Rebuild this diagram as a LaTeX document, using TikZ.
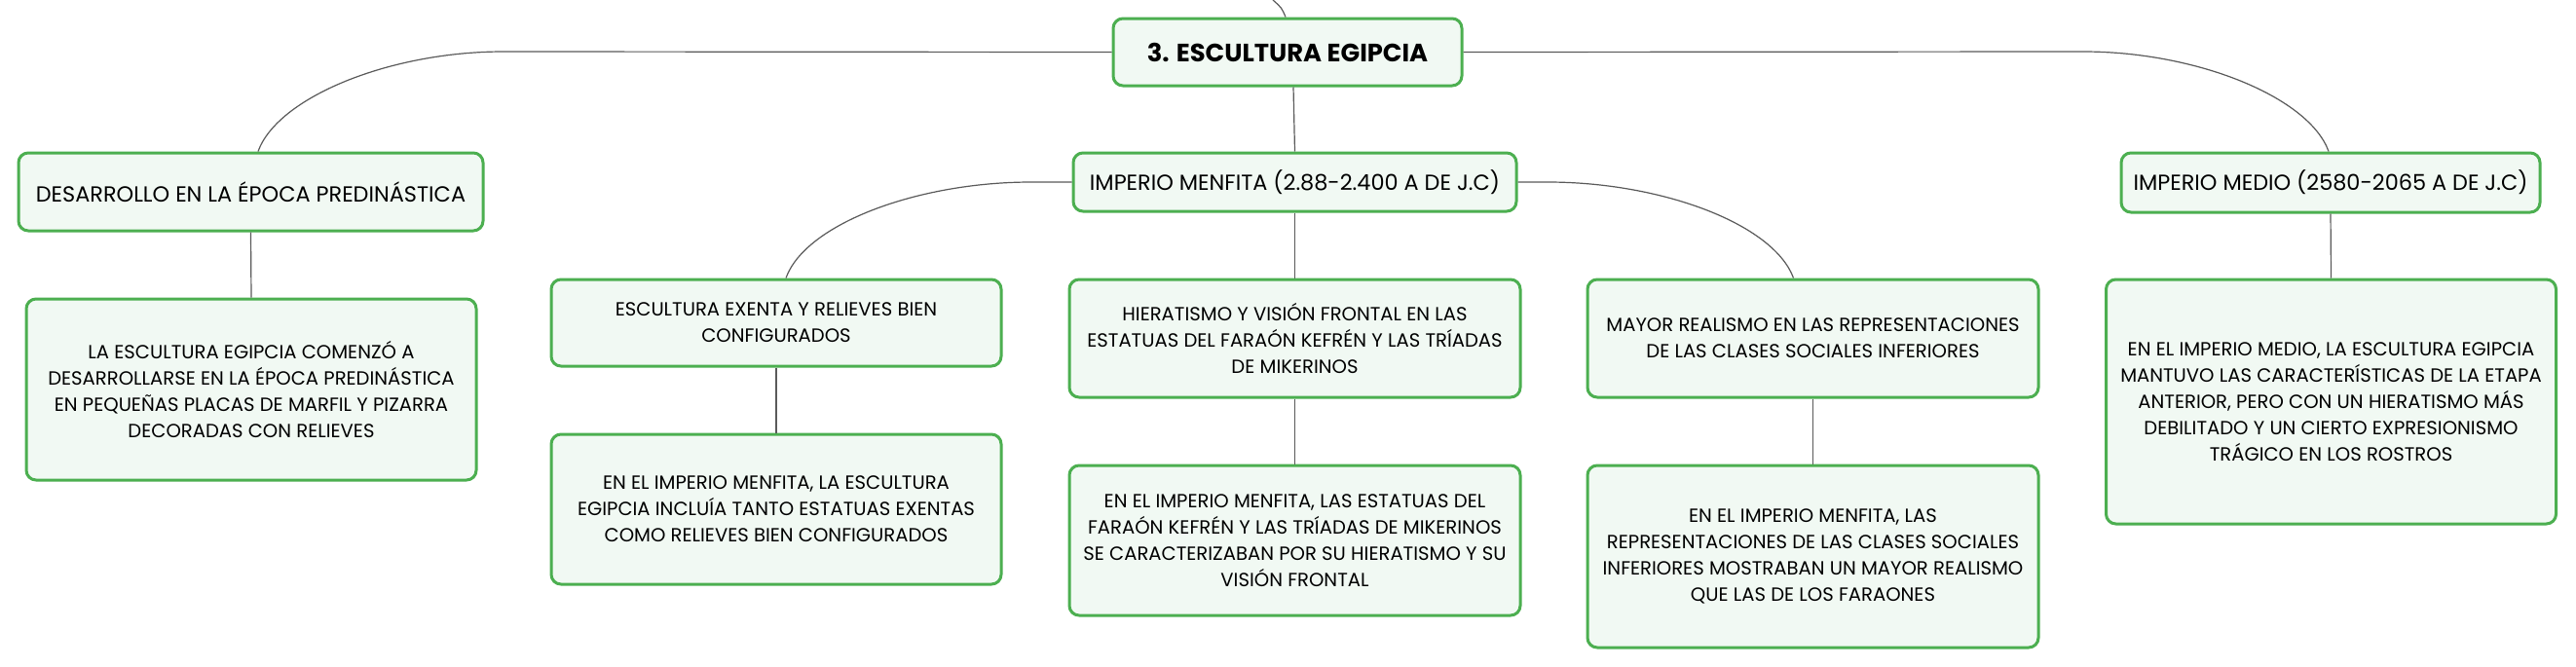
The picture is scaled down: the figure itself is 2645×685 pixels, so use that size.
\documentclass[tikz,border=0pt]{standalone}
\usepackage{fontspec}
\setmainfont{Poppins}
\usetikzlibrary{calc}
\definecolor{boxline}{HTML}{4CAF50}
\definecolor{boxfill}{HTML}{F1F9F3}
\definecolor{conncol}{HTML}{5A5A5A}
\tikzset{
  box/.style={draw=boxline, fill=boxfill, line width=1.5pt, rounded corners=5pt,
    align=center, inner sep=0pt, font=\fontsize{9.8pt}{13.5pt}\selectfont},
  headbox/.style={box, font=\fontsize{11.2pt}{14pt}\selectfont},
  rootbox/.style={box, font=\fontsize{12.9pt}{15pt}\selectfont\bfseries},
  conn/.style={draw=conncol, line width=0.6pt},
}
\begin{document}
\begin{tikzpicture}[x=0.5pt, y=-0.5pt]
\useasboundingbox[fill=white] (0,0) rectangle (2645,685);
% boxes
\node[rootbox, minimum width=179pt, minimum height=34.5pt] (root) at (1322,53.5) {3. ESCULTURA EGIPCIA};
\node[headbox, minimum width=238.5pt, minimum height=40pt] (desa) at (257.5,197) {DESARROLLO EN LA ÉPOCA PREDINÁSTICA};
\node[box, minimum width=231pt, minimum height=93pt] (desaC) at (258,400) {LA ESCULTURA EGIPCIA COMENZÓ A\\DESARROLLARSE EN LA ÉPOCA PREDINÁSTICA\\EN PEQUEÑAS PLACAS DE MARFIL Y PIZARRA\\DECORADAS CON RELIEVES};
\node[headbox, minimum width=227.5pt, minimum height=30pt] (menf) at (1329.5,187) {IMPERIO MENFITA (2.88-2.400 A DE J.C)};
\node[box, minimum width=231pt, minimum height=44.5pt] (exen) at (797,331.5) {ESCULTURA EXENTA Y RELIEVES BIEN\\CONFIGURADOS};
\node[box, minimum width=231pt, minimum height=77pt] (exenC) at (797,523) {EN EL IMPERIO MENFITA, LA ESCULTURA\\EGIPCIA INCLUÍA TANTO ESTATUAS EXENTAS\\COMO RELIEVES BIEN CONFIGURADOS};
\node[box, minimum width=231.5pt, minimum height=60.5pt] (hier) at (1329.5,347.5) {HIERATISMO Y VISIÓN FRONTAL EN LAS\\ESTATUAS DEL FARAÓN KEFRÉN Y LAS TRÍADAS\\DE MIKERINOS};
\node[box, minimum width=231.5pt, minimum height=77pt] (hierC) at (1329.5,555) {EN EL IMPERIO MENFITA, LAS ESTATUAS DEL\\FARAÓN KEFRÉN Y LAS TRÍADAS DE MIKERINOS\\SE CARACTERIZABAN POR SU HIERATISMO Y SU\\VISIÓN FRONTAL};
\node[box, minimum width=231.5pt, minimum height=60.5pt] (mayor) at (1861.5,347.5) {MAYOR REALISMO EN LAS REPRESENTACIONES\\DE LAS CLASES SOCIALES INFERIORES};
\node[box, minimum width=231.5pt, minimum height=93.5pt] (mayorC) at (1861.5,571.5) {EN EL IMPERIO MENFITA, LAS\\REPRESENTACIONES DE LAS CLASES SOCIALES\\INFERIORES MOSTRABAN UN MAYOR REALISMO\\QUE LAS DE LOS FARAONES};
\node[headbox, minimum width=215pt, minimum height=30.5pt] (medio) at (2393,187.5) {IMPERIO MEDIO (2580-2065 A DE J.C)};
\node[box, minimum width=231pt, minimum height=125.5pt] (medioC) at (2393.5,412.5) {EN EL IMPERIO MEDIO, LA ESCULTURA EGIPCIA\\MANTUVO LAS CARACTERÍSTICAS DE LA ETAPA\\ANTERIOR, PERO CON UN HIERATISMO MÁS\\DEBILITADO Y UN CIERTO EXPRESIONISMO\\TRÁGICO EN LOS ROSTROS};
% connectors
\coordinate (up) at (1307,0);
\draw[conn] (up) .. controls (1316,8) .. ($(root.north)+(-2,0)$);
\draw[conn] (root.west) -- (517,53) .. controls (400,53) and (285,100) .. ($(desa.north)+(7.5,0)$);
\draw[conn] (root.east) -- (2139,53) .. controls (2256,53) and (2371,100) .. ($(medio.north)+(-2,0)$);
\draw[conn] ($(root.south)+(6,0)$) -- (menf.north);
\draw[conn] (menf.west) -- (1059,187) .. controls (942,187) and (827,230) .. ($(exen.north)+(10,0)$);
\draw[conn] (menf.east) -- (1589,187) .. controls (1706,187) and (1821,230) .. ($(mayor.north)+(-20,0)$);
\draw[conn] (menf.south) -- (hier.north);
\draw[conn] (desa.south) -- (desaC.north);
\draw[conn] (exen.south) -- (exenC.north);
\draw[conn] (hier.south) -- (hierC.north);
\draw[conn] (mayor.south) -- (mayorC.north);
\draw[conn] (medio.south) -- (medioC.north);
\end{tikzpicture}
\end{document}
